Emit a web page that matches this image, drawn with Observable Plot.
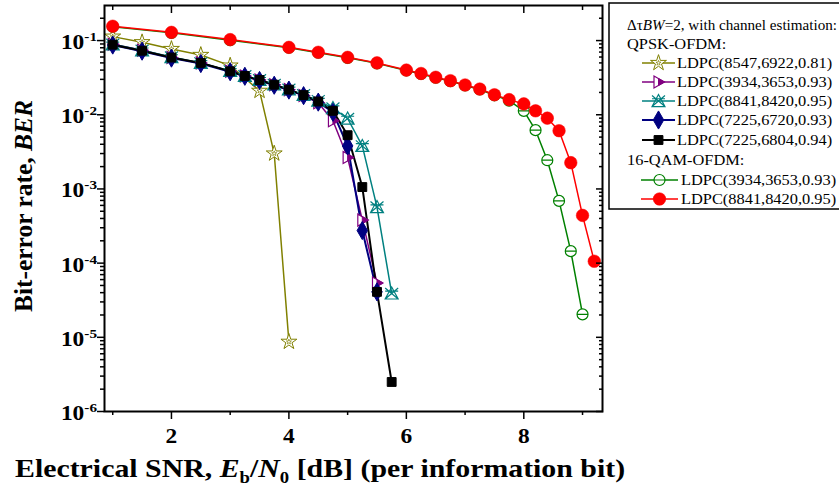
<!DOCTYPE html>
<html><head><meta charset="utf-8">
<script src="https://cdn.jsdelivr.net/npm/d3@7"></script>
<script src="https://cdn.jsdelivr.net/npm/@observablehq/plot@0.6"></script>
<style>
body{margin:0;background:#fff;}
#chart{position:relative;width:839px;height:493px;overflow:hidden;}
</style></head><body><div id="chart"></div>
<script>
// ---- data ----
const snrOlive = [1,1.5,2,2.5,3,3.5,3.75,4];
const berOlive = [0.113,0.095,0.077,0.064,0.046,0.021,3.0e-3,8.7e-6];

const snrPurple = [1,1.5,2,2.5,3,3.25,3.5,3.75,4,4.25,4.5,4.75,5,5.25,5.5];
const berPurple = [0.089,0.074,0.059,0.050,0.0385,0.0333,0.0294,0.0254,0.0218,0.0182,0.0145,8.3e-3,2.65e-3,3.8e-4,5.4e-5];

const snrTeal = [1,1.5,2,2.5,3,3.25,3.5,3.75,4,4.25,4.5,4.75,5,5.25,5.5,5.75];
const berTeal = [0.089,0.074,0.060,0.050,0.039,0.0335,0.0296,0.0256,0.022,0.0186,0.0155,0.0123,8.9e-3,3.8e-3,5.7e-4,3.9e-5];

const snrNavy = [1,1.5,2,2.5,3,3.25,3.5,3.75,4,4.25,4.5,4.75,5,5.25,5.5];
const berNavy = [0.087,0.072,0.058,0.049,0.038,0.033,0.029,0.025,0.0215,0.0181,0.0148,0.0108,3.8e-3,2.75e-4,4.1e-5];

const snrBlack = [1,1.5,2,2.5,3,3.25,3.5,3.75,4,4.25,4.5,4.75,5,5.25,5.5,5.75];
const berBlack = [0.088,0.073,0.059,0.050,0.0385,0.0333,0.0294,0.0254,0.0218,0.0184,0.0151,0.0113,5.3e-3,1.06e-3,4.1e-5,2.5e-6];

const snrGreen = [1,2,3,4,4.5,5,5.5,6,6.25,6.5,6.75,7,7.25,7.5,7.75,8,8.2,8.4,8.6,8.8,9];
const berGreen = [0.154,0.127,0.101,0.080,0.0685,0.0585,0.0493,0.0395,0.0355,0.0316,0.0284,0.0248,0.0219,0.0183,0.0155,0.0113,0.0062,0.00244,6.9e-4,1.45e-4,2.04e-5];

const snrRed = [1,2,3,4,4.5,5,5.5,6,6.25,6.5,6.75,7,7.25,7.5,7.75,8,8.2,8.4,8.6,8.8,9,9.2];
const berRed = [0.156,0.129,0.103,0.081,0.0695,0.0594,0.050,0.040,0.036,0.032,0.0288,0.0252,0.0222,0.0186,0.016,0.014,0.0113,0.0090,0.0061,0.00226,4.4e-4,1.06e-4];

const xMajorTicks = [2,4,6,8];
const xMinorTicks = [1,3,5,7,9];
const yMajorTicks = [1e-6,1e-5,1e-4,1e-3,1e-2,1e-1];
const yMajorExps = ["-6","-5","-4","-3","-2","-1"];
const yMinorTicks = [];
for (let e = -6; e <= -1; e++) for (let m = 2; m <= 9; m++) { const v = m * Math.pow(10, e); if (v < 0.29) yMinorTicks.push(v); }

const legendHeader = "with channel estimation:";
const groupQPSK = "QPSK-OFDM:";
const groupQAM = "16-QAM-OFDM:";
const labels = ["LDPC(8547,6922,0.81)","LDPC(3934,3653,0.93)","LDPC(8841,8420,0.95)","LDPC(7225,6720,0.93)","LDPC(7225,6804,0.94)","LDPC(3934,3653,0.93)","LDPC(8841,8420,0.95)"];

// ---- symbols ----
const symTriOuter = {draw(c, s){const r=Math.sqrt(s/Math.PI); c.moveTo(r,0); c.lineTo(-0.75*r,-r); c.lineTo(-0.75*r,r); c.closePath();}};
const symTriInner = {draw(c, s){const r=Math.sqrt(s/Math.PI); const h=r/1.75; c.moveTo(r,0); c.lineTo(0,-h); c.lineTo(0,h); c.closePath();}};
const symCross = {draw(c, s){const r=Math.sqrt(s/Math.PI);
  c.moveTo(0,-r); c.lineTo(r,0.85*r); c.lineTo(-r,0.85*r); c.closePath();
  c.moveTo(-r,-0.85*r); c.lineTo(r,0.85*r); c.moveTo(r,-0.85*r); c.lineTo(-r,0.85*r);
  c.moveTo(-r,-0.35*r); c.lineTo(r,-0.35*r);}};
const symCircleBar = {draw(c, s){const r=Math.sqrt(s/Math.PI); c.moveTo(r,0); c.arc(0,0,r,0,2*Math.PI); c.moveTo(-r,0); c.lineTo(r,0);}};

const mk = (xs, ys) => xs.map((x, i) => ({x, y: ys[i]}));
const dOlive = mk(snrOlive, berOlive), dPurple = mk(snrPurple, berPurple), dTeal = mk(snrTeal, berTeal),
      dNavy = mk(snrNavy, berNavy), dBlack = mk(snrBlack, berBlack), dGreen = mk(snrGreen, berGreen), dRed = mk(snrRed, berRed);

const C = {olive:"#808000", purple:"#800080", teal:"#008080", navy:"#000080", black:"#000000", green:"#008000", red:"#ff0000"};

const series = [
  {d:dOlive, color:C.olive, lw:1.5, dots:[{symbol:"star", r:5, fill:"white", stroke:C.olive, sw:1},{symbol:"star", r:1.6, fill:"none", stroke:C.olive, sw:0.7}]},
  {d:dPurple, color:C.purple, lw:1.5, dots:[{symbol:symTriOuter, r:6, fill:"white", stroke:C.purple, sw:1.2},{symbol:symTriInner, r:6, fill:C.purple, stroke:C.purple, sw:1}]},
  {d:dTeal, color:C.teal, lw:1.5, dots:[{symbol:symCross, r:6.5, fill:"none", stroke:C.teal, sw:1.2}]},
  {d:dNavy, color:C.navy, lw:2, dots:[{symbol:"diamond", r:5.5, fill:C.navy, stroke:C.navy, sw:1}]},
  {d:dBlack, color:C.black, lw:2, dots:[{symbol:"square", r:5, fill:C.black, stroke:C.black, sw:1}]},
  {d:dGreen, color:C.green, lw:1.5, dots:[{symbol:symCircleBar, r:5.5, fill:"white", stroke:C.green, sw:1.2}]},
  {d:dRed, color:C.red, lw:1.5, dots:[{symbol:"circle", r:6.3, fill:C.red, stroke:C.red, sw:0.5}]}
];

const marks = [];
for (const s of series) marks.push(Plot.line(s.d, {x:"x", y:"y", stroke:s.color, strokeWidth:s.lw}));
for (const s of series) for (const o of s.dots) marks.push(Plot.dot(s.d, {x:"x", y:"y", symbol:o.symbol, r:o.r, fill:o.fill, stroke:o.stroke, strokeWidth:o.sw}));

marks.push(
  Plot.axisY({ticks:yMajorTicks, anchor:"left", tickSize:7, tickFormat:() => "", label:null, strokeWidth:1.5}),
  Plot.axisY({ticks:yMinorTicks, anchor:"left", tickSize:4, tickFormat:() => "", label:null, strokeWidth:1.5}),
  Plot.axisY({ticks:yMajorTicks, anchor:"right", tickSize:-7, tickFormat:() => "", label:null, strokeWidth:1.5}),
  Plot.axisY({ticks:yMinorTicks, anchor:"right", tickSize:-4, tickFormat:() => "", label:null, strokeWidth:1.5}),
  Plot.axisX({ticks:xMajorTicks, anchor:"bottom", tickSize:8, tickPadding:9, tickFormat:d => String(d), label:null, strokeWidth:1.5}),
  Plot.axisX({ticks:xMinorTicks, anchor:"bottom", tickSize:4, tickFormat:() => "", label:null, strokeWidth:1.5}),
  Plot.axisX({ticks:xMajorTicks, anchor:"top", tickSize:-7, tickFormat:() => "", label:null, strokeWidth:1.5}),
  Plot.axisX({ticks:xMinorTicks, anchor:"top", tickSize:-4, tickFormat:() => "", label:null, strokeWidth:1.5}),
  Plot.frame({stroke:"black", strokeWidth:2})
);

const plot = Plot.plot({
  width:839, height:493,
  marginLeft:104, marginRight:237, marginTop:5, marginBottom:82,
  x:{domain:[0.86, 9.34]},
  y:{type:"log", domain:[1e-6, 0.297]},
  style:{fontFamily:"Liberation Serif", fontSize:"20px", fontWeight:"bold", background:"white", color:"black"},
  marks
});
document.getElementById("chart").appendChild(plot);

const svg = d3.select(plot);
const SX = 1.17;
const stretch = (node) => { const L = node.getComputedTextLength(); if (L > 0) { node.setAttribute("textLength", L * SX); node.setAttribute("lengthAdjust", "spacingAndGlyphs"); } return L * SX; };

svg.selectAll('[aria-label="x-axis tick label"] text').each(function(){ stretch(this); });

// y tick labels with superscripts, positioned with Plot's y scale
const yScale = plot.scale("y");
const yl = svg.append("g").attr("font-family", "Liberation Serif").attr("font-weight", "bold").attr("fill", "black").attr("text-anchor", "start");
yMajorTicks.forEach((v, i) => {
  const py = yScale.apply(v);
  const base = yl.append("text").attr("y", py + 9).attr("font-size", "20px").text("10");
  const sup = yl.append("text").attr("y", py + 1).attr("font-size", "13px").text(yMajorExps[i]);
  const wb = stretch(base.node()), ws = stretch(sup.node());
  const right = 97;
  sup.attr("x", right - ws);
  base.attr("x", right - ws - wb);
});

// axis titles
const ylab = svg.append("text").attr("transform", "translate(32,206) rotate(-90)")
  .attr("text-anchor", "middle").attr("font-size", "25.5px").attr("font-weight", "bold")
  .attr("font-family", "Liberation Serif").attr("fill", "black");
ylab.append("tspan").text("Bit-error rate, ");
ylab.append("tspan").attr("font-style", "italic").text("BER");

const xlab = svg.append("text").attr("x", 15).attr("y", 477).attr("text-anchor", "start")
  .attr("font-size", "25.5px").attr("font-weight", "bold")
  .attr("font-family", "Liberation Serif").attr("fill", "black");
xlab.append("tspan").text("Electrical SNR, ");
xlab.append("tspan").attr("font-style", "italic").text("E");
xlab.append("tspan").attr("font-size", "16px").attr("dy", 6).text("b");
xlab.append("tspan").attr("dy", -6).text("/");
xlab.append("tspan").attr("font-style", "italic").text("N");
xlab.append("tspan").attr("font-size", "16px").attr("dy", 6).text("0");
xlab.append("tspan").attr("dy", -6).text(" [dB] (per information bit)");
stretch(xlab.node());

// legend
const lg = svg.append("g").attr("font-family", "Liberation Serif").attr("font-size", "14px").attr("font-weight", "normal")
  .attr("fill", "black").attr("text-anchor", "start");
lg.append("rect").attr("x", 609).attr("y", 3).attr("width", 260).attr("height", 206).attr("fill", "white").attr("stroke", "black").attr("stroke-width", 1.5);
const h1 = lg.append("text").attr("x", 627).attr("y", 30)
  .attr("textLength", 210).attr("lengthAdjust", "spacingAndGlyphs");
h1.append("tspan").text("\u0394\u03C4");
h1.append("tspan").attr("font-style", "italic").text("BW");
h1.append("tspan").text("=2, " + legendHeader);
stretch(lg.append("text").attr("x", 627).attr("y", 49).text(groupQPSK).node());
stretch(lg.append("text").attr("x", 627).attr("y", 165).text(groupQAM).node());
const rowsY = [63, 82, 101, 120, 140, 180, 199];
series.forEach((s, i) => {
  const y = rowsY[i];
  const q = i >= 5;
  const x0 = q ? 641 : 642, x1 = q ? 678 : 675, xm = (x0 + x1) / 2;
  lg.append("line").attr("x1", x0).attr("x2", x1).attr("y1", y).attr("y2", y).attr("stroke", s.color).attr("stroke-width", s.lw);
  for (const o of s.dots) {
    const symType = typeof o.symbol === "string" ? {star:d3.symbolStar, diamond:d3.symbolDiamond, square:d3.symbolSquare, circle:d3.symbolCircle}[o.symbol] : o.symbol;
    lg.append("path").attr("transform", `translate(${xm},${y})`).attr("d", d3.symbol(symType, o.r * o.r * Math.PI)())
      .attr("fill", o.fill).attr("stroke", o.stroke).attr("stroke-width", o.sw);
  }
  stretch(lg.append("text").attr("x", q ? 681 : 677).attr("y", y + 5).text(labels[i]).node());
});
</script>
</body></html>
